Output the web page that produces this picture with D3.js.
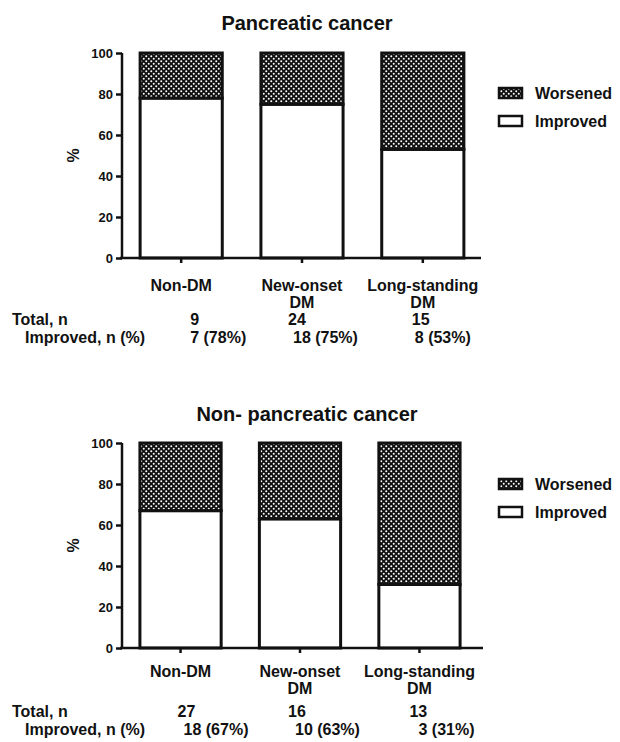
<!DOCTYPE html>
<html>
<head>
<meta charset="utf-8">
<script src="https://cdn.jsdelivr.net/npm/d3@7"></script>
<style>
  html, body { margin: 0; padding: 0; background: #fff; }
  svg { display: block; }
  text { font-family: "Liberation Sans", Arial, Helvetica, sans-serif; font-weight: bold; fill: #111; }
</style>
</head>
<body>
<svg id="chart" width="620" height="742"></svg>
<script>
// ---------- data ----------
const categories = [["Non-DM"], ["New-onset", "DM"], ["Long-standing", "DM"]];
const categoryKeys = ["Non-DM", "New-onset DM", "Long-standing DM"];
const panelTitles = ["Pancreatic cancer", "Non- pancreatic cancer"];
const seriesNames = ["Worsened", "Improved"];
const yTicks = [0, 20, 40, 60, 80, 100];
const rowLabels = ["Total, n", "Improved, n (%)"];

const improvedPctPancreatic = [78, 75, 53];
const totalPancreatic = [9, 24, 15];
const improvedNPancreatic = [7, 18, 8];

const improvedPctNonPancreatic = [67, 63, 31];
const totalNonPancreatic = [27, 16, 13];
const improvedNNonPancreatic = [18, 10, 3];

// ---------- layout (not data) ----------
const panels = [
  { title: panelTitles[0], improved: improvedPctPancreatic, total: totalPancreatic, nImp: improvedNPancreatic,
    titleY: 30, yTop: 53, yBot: 258, xRange: [122, 482], axisEnd: 481,
    catY: 291, totY: 325, impY: 343, totOff: [9, -14, -11], impOff: [9, -9, -8],
    legY: [93, 121] },
  { title: panelTitles[1], improved: improvedPctNonPancreatic, total: totalNonPancreatic, nImp: improvedNNonPancreatic,
    titleY: 421, yTop: 443, yBot: 648, xRange: [122, 478], axisEnd: 483,
    catY: 677, totY: 717, impY: 735, totOff: [-3, -12, -10], impOff: [3, -5, -1],
    legY: [484, 512] }
];

const svg = d3.select("#chart");

// dotted pattern for "Worsened"
const defs = svg.append("defs");
const pat = defs.append("pattern")
  .attr("id", "dots").attr("patternUnits", "userSpaceOnUse")
  .attr("width", 5).attr("height", 5);
pat.append("rect").attr("width", 5).attr("height", 5).attr("fill", "#111");
pat.append("circle").attr("cx", 1.25).attr("cy", 1.25).attr("r", 1.0).attr("fill", "#fff");
pat.append("circle").attr("cx", 3.75).attr("cy", 3.75).attr("r", 1.0).attr("fill", "#fff");

const fills = { Worsened: "url(#dots)", Improved: "#fff" };

panels.forEach(p => {
  const g = svg.append("g");
  const x = d3.scaleBand().domain(categoryKeys).range(p.xRange)
    .paddingInner(0.32).paddingOuter(0.15);
  const y = d3.scaleLinear().domain([0, 100]).range([p.yBot, p.yTop]);

  // title
  g.append("text").attr("x", 307).attr("y", p.titleY)
    .attr("text-anchor", "middle").style("font-size", "20px").text(p.title);

  // stacked data
  const rows = categoryKeys.map((k, i) => ({ key: k, Improved: p.improved[i], Worsened: 100 - p.improved[i] }));
  const stack = d3.stack().keys(["Improved", "Worsened"])(rows);

  stack.forEach(layer => {
    g.selectAll(null).data(layer).enter().append("rect")
      .attr("x", d => x(d.data.key))
      .attr("width", x.bandwidth())
      .attr("y", d => y(d[1]))
      .attr("height", d => y(d[0]) - y(d[1]))
      .attr("fill", fills[layer.key])
      .attr("stroke", "#111").attr("stroke-width", 3);
  });

  // y axis
  const yAxis = d3.axisLeft(y).tickValues(yTicks).tickSize(6).tickPadding(3);
  const ya = g.append("g").attr("transform", `translate(${p.xRange[0]},0)`).call(yAxis);
  ya.select(".domain").attr("stroke", "#111").attr("stroke-width", 2.5).attr("d", `M0,${p.yTop}V${p.yBot}`);
  ya.selectAll(".tick line").attr("stroke", "#111").attr("stroke-width", 2.5);
  ya.selectAll(".tick text").style("font-size", "13px").style("font-family", "Liberation Sans, Arial, sans-serif")
    .style("font-weight", "bold").attr("fill", "#111");

  // x axis
  const xAxis = d3.axisBottom(x).tickSize(5).tickFormat("");
  const xa = g.append("g").attr("transform", `translate(0,${p.yBot})`).call(xAxis);
  xa.select(".domain").attr("stroke", "#111").attr("stroke-width", 2.5)
    .attr("d", `M${p.xRange[0] - 2},0H${p.axisEnd}`);
  xa.selectAll(".tick line").attr("stroke", "#111").attr("stroke-width", 2.5);

  // y label
  g.append("text")
    .attr("transform", `translate(79,${(p.yTop + p.yBot) / 2}) rotate(-90)`)
    .attr("text-anchor", "middle").style("font-size", "16px").text("%");

  // category labels
  categories.forEach((lines, i) => {
    const cx = x(categoryKeys[i]) + x.bandwidth() / 2;
    lines.forEach((ln, j) => {
      g.append("text").attr("x", cx).attr("y", p.catY + j * 17)
        .attr("text-anchor", "middle").style("font-size", "16px").text(ln);
    });
  });

  // table rows
  g.append("text").attr("x", 12).attr("y", p.totY).style("font-size", "16px").text(rowLabels[0]);
  g.append("text").attr("x", 25).attr("y", p.impY).style("font-size", "16px").text(rowLabels[1]);
  categoryKeys.forEach((k, i) => {
    const cx = x(k) + x.bandwidth() / 2;
    g.append("text").attr("x", cx + p.totOff[i]).attr("y", p.totY)
      .style("font-size", "16px").text(p.total[i]);
    g.append("text").attr("x", cx + p.impOff[i]).attr("y", p.impY)
      .style("font-size", "16px").text(`${p.nImp[i]} (${p.improved[i]}%)`);
  });

  // legend
  seriesNames.forEach((s, i) => {
    const cy = p.legY[i];
    g.append("rect").attr("x", 499).attr("y", cy - 5).attr("width", 23).attr("height", 10)
      .attr("fill", fills[s]).attr("stroke", "#111").attr("stroke-width", 2.5);
    g.append("text").attr("x", 535).attr("y", cy + 6).style("font-size", "16px").text(s);
  });
});
</script>
</body>
</html>
